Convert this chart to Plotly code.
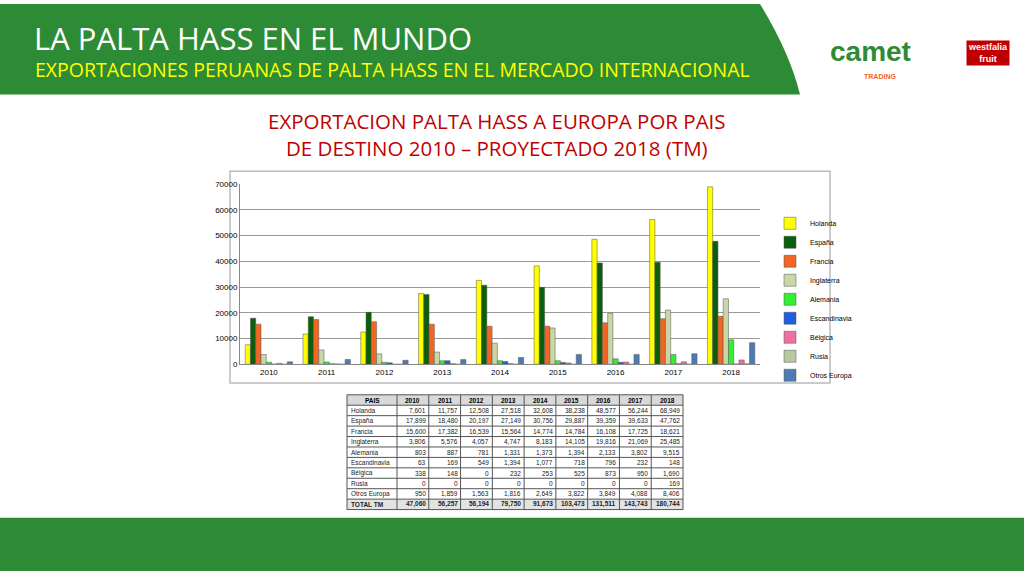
import plotly.graph_objects as go

years = ["2010", "2011", "2012", "2013", "2014", "2015", "2016", "2017", "2018"]
countries = ["Holanda", "España", "Francia", "Inglaterra", "Alemania", "Escandinavia",
             "Bélgica", "Rusia", "Otros Europa"]
holanda = [7601, 11757, 12508, 27518, 32608, 38238, 48577, 56244, 68949]
espana = [17899, 18480, 20197, 27149, 30756, 29887, 39359, 39633, 47762]
francia = [15600, 17382, 16539, 15564, 14774, 14784, 16108, 17725, 18621]
inglaterra = [3806, 5576, 4057, 4747, 8183, 14105, 19816, 21069, 25485]
alemania = [803, 887, 781, 1331, 1373, 1394, 2133, 3802, 9515]
escandinavia = [63, 169, 549, 1394, 1077, 718, 796, 232, 148]
belgica = [338, 148, 0, 232, 253, 525, 873, 950, 1690]
rusia = [0, 0, 0, 0, 0, 0, 0, 0, 169]
otros = [950, 1859, 1563, 1816, 2649, 3822, 3849, 4088, 8406]
totales = [47060, 56257, 56194, 79750, 91673, 103473, 131511, 143743, 180744]

series = [holanda, espana, francia, inglaterra, alemania, escandinavia, belgica, rusia, otros]
colors = ["#FFFF00", "#0B5E0B", "#F26522", "#C9D6A6", "#33EE33", "#1F5FE0",
          "#F06EA0", "#B8C9A0", "#4F7BB5"]

W, H = 1024, 576
def fx(p): return p / W
def fy(p): return 1 - p / H

fig = go.Figure()
for name, vals, c in zip(countries, series, colors):
    fig.add_trace(go.Bar(x=years, y=vals, name=name, marker_color=c,
                         marker_line=dict(color="#555", width=0.5)))

shapes = [
    dict(type="rect", xref="paper", yref="paper", x0=0, x1=fx(800), y0=fy(92), y1=1,
         fillcolor="#2E8B35", line_width=0, layer="below"),
    dict(type="path", xref="paper", yref="paper",
         path=f"M {fx(760)} 1 Q {fx(790)} {fy(50)} {fx(800)} {fy(92)} L {fx(1024)} {fy(92)} L 1 1 Z",
         fillcolor="white", line_width=0, layer="below"),
    dict(type="rect", xref="paper", yref="paper", x0=0, x1=1, y0=0, y1=fy(522),
         fillcolor="#2E8B35", line_width=0, layer="below"),
    dict(type="rect", xref="paper", yref="paper", x0=fx(230), x1=fx(830), y0=fy(385), y1=fy(170),
         fillcolor="white", line=dict(color="#BBBBBB", width=1.5), layer="below"),
]

def note(text, x, y, size, color, xanchor="left", **kw):
    return dict(text=text, x=fx(x), y=fy(y), xref="paper", yref="paper", xanchor=xanchor,
                yanchor="middle", font=dict(size=size, color=color, family=kw.pop("family", "Open Sans")),
                showarrow=False, **kw)

annotations = [
    note("LA PALTA HASS EN EL MUNDO", 32, 35, 31, "white"),
    note("EXPORTACIONES PERUANAS DE PALTA HASS EN EL MERCADO INTERNACIONAL", 33, 67, 19.5, "#FFFF00"),
    note("EXPORTACION PALTA HASS A EUROPA POR PAIS<br>DE DESTINO 2010 – PROYECTADO 2018 (TM)",
         497, 133, 20.5, "#C00000", xanchor="center"),
    note("<b>camet</b>", 870, 48, 28, "#2E8B35", xanchor="center", family="Arial"),
    note("<b>TRADING</b>", 880, 74, 7, "#F26522", xanchor="center", family="Arial"),
    note("<b>westfalia<br>fruit</b>", 988, 50, 9, "white", xanchor="center", family="Arial",
         bgcolor="#C00000"),
]

# table drawn with shapes + text
tx0, tx1, ty0 = 347, 683, 397
c0w = 50
cw = (tx1 - tx0 - c0w) / 9
rh = 10.6
nrows = 11
ty1 = ty0 + rh * nrows
shapes.append(dict(type="rect", xref="paper", yref="paper", x0=fx(tx0), x1=fx(tx1),
                   y0=fy(ty0 + rh), y1=fy(ty0), fillcolor="#D9D9D9", line_width=0, layer="below"))
shapes.append(dict(type="rect", xref="paper", yref="paper", x0=fx(tx0), x1=fx(tx1),
                   y0=fy(ty1), y1=fy(ty1 - rh), fillcolor="#E3E3E3", line_width=0, layer="below"))
for i in range(nrows + 1):
    y = ty0 + rh * i
    shapes.append(dict(type="line", xref="paper", yref="paper", x0=fx(tx0), x1=fx(tx1),
                       y0=fy(y), y1=fy(y), line=dict(color="#555", width=1)))
xs = [tx0, tx0 + c0w] + [tx0 + c0w + cw * j for j in range(1, 10)]
for x in xs:
    shapes.append(dict(type="line", xref="paper", yref="paper", x0=fx(x), x1=fx(x),
                       y0=fy(ty0), y1=fy(ty1), line=dict(color="#555", width=1)))

tf = "Arial"
annotations.append(note("<b>PAIS</b>", tx0 + c0w / 2, ty0 + rh / 2, 6.5, "black", "center", family=tf))
for j, yr in enumerate(years):
    annotations.append(note(f"<b>{yr}</b>", tx0 + c0w + cw * (j + 0.5), ty0 + rh / 2, 6.5,
                            "black", "center", family=tf))
table_rows = list(zip(countries, series)) + [("TOTAL TM", totales)]
for i, (name, vals) in enumerate(table_rows):
    y = ty0 + rh * (i + 1.5)
    b = (lambda s: f"<b>{s}</b>") if name == "TOTAL TM" else (lambda s: s)
    annotations.append(note(b(name), tx0 + 2, y, 6.5, "#222", "left", family=tf))
    for j, v in enumerate(vals):
        annotations.append(note(b(f"{v:,}"), tx0 + c0w + cw * (j + 1) - 1, y, 6.5, "#222",
                                "right", family=tf))

fig.update_layout(
    width=W, height=H, margin=dict(l=0, r=0, t=0, b=0),
    paper_bgcolor="white", plot_bgcolor="white",
    barmode="group", bargap=0.18, bargroupgap=0,
    xaxis=dict(domain=[fx(240), fx(760)], anchor="y", showline=True, linecolor="#888",
               tickfont=dict(size=8, family="Arial", color="black")),
    yaxis=dict(domain=[fy(366), fy(183)], range=[0, 70000], dtick=10000, showgrid=True,
               gridcolor="#999", tickformat="d", showline=True, linecolor="#888",
               tickfont=dict(size=8, family="Arial", color="black")),
    legend=dict(x=fx(770), y=fy(208), xanchor="left", yanchor="top",
                font=dict(size=7, family="Arial", color="black"), tracegroupgap=0,
                itemwidth=30, bgcolor="rgba(0,0,0,0)"),
    shapes=shapes, annotations=annotations,
)

fig.write_html("out.html", config={"displayModeBar": False},
               post_script="document.body.style.margin='0';")
